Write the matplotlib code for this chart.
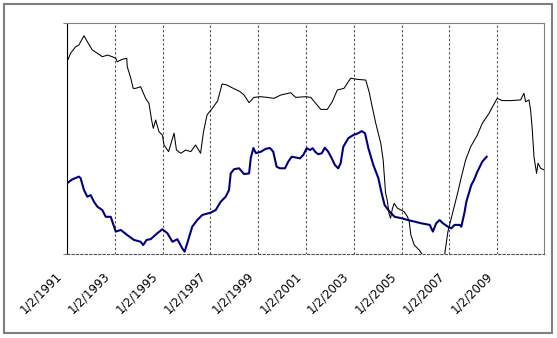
import matplotlib
matplotlib.use("Agg")
import matplotlib.pyplot as plt
from matplotlib.patches import Rectangle
from matplotlib.transforms import ScaledTranslation

# ---- data (decimal years, value index) ----
black_x = [1991.00, 1991.15, 1991.36, 1991.50, 1991.71, 1991.85, 1992.06, 1992.27, 1992.48, 1992.69,
           1992.90, 1993.04, 1993.10, 1993.31, 1993.50, 1993.52, 1993.67, 1993.77, 1993.87, 1994.08,
           1994.29, 1994.43, 1994.54, 1994.61, 1994.71, 1994.85, 1994.99, 1995.06, 1995.25, 1995.48,
           1995.58, 1995.76, 1995.97, 1996.18, 1996.38, 1996.59, 1996.71, 1996.86, 1997.09, 1997.30,
           1997.49, 1997.68, 1997.96, 1998.24, 1998.41, 1998.62, 1998.82, 1999.10, 1999.38, 1999.66,
           1999.94, 2000.36, 2000.57, 2000.99, 2001.20, 2001.41, 2001.62, 2001.89, 2002.10, 2002.31,
           2002.59, 2002.87, 2003.15, 2003.50, 2003.64, 2003.77, 2003.92, 2004.13, 2004.23, 2004.33,
           2004.40, 2004.48, 2004.54, 2004.62, 2004.69, 2004.83, 2005.11, 2005.25, 2005.32, 2005.39,
           2005.53, 2005.74, 2005.88, 2006.20, 2006.50, 2006.80, 2006.94, 2007.08, 2007.22, 2007.36,
           2007.47, 2007.68, 2007.89, 2008.17, 2008.38, 2008.66, 2009.00, 2009.21, 2009.56, 2009.98,
           2010.12, 2010.19, 2010.33, 2010.40, 2010.47, 2010.54, 2010.65, 2010.71, 2010.82, 2010.96]
black_y = [83.2, 86.9, 89.7, 90.5, 94.5, 91.9, 88.3, 86.9, 85.4, 86.1,
           85.4, 84.7, 83.2, 84.3, 84.7, 81.1, 76.1, 71.7, 71.7, 72.4,
           67.4, 65.2, 58.0, 54.4, 58.0, 52.9, 51.5, 47.2, 44.3, 52.3,
           45.0, 43.6, 45.0, 44.3, 47.2, 43.6, 52.8, 60.2, 63.2, 66.2,
           73.6, 73.2, 71.7, 70.3, 68.8, 65.5, 67.8, 68.1, 67.8, 67.4,
           68.8, 69.8, 67.8, 68.1, 67.8, 65.2, 62.6, 62.6, 65.9, 71.0,
           71.7, 76.1, 75.6, 75.3, 70.3, 63.8, 56.6, 47.9, 40.7, 26.4,
           23.4, 17.3, 15.5, 19.8, 21.9, 19.8, 18.3, 16.1, 14.0, 8.2,
           3.9, 1.7, -0.4, -6.0, -6.0, -0.4, 9.7, 15.5, 21.2, 27.0,
           32.0, 40.7, 46.4, 51.5, 56.6, 60.9, 67.4, 66.4, 66.4, 66.7,
           69.6, 65.9, 66.7, 62.3, 53.7, 42.1, 34.9, 39.3, 37.1, 36.4]

blue_x = [1991.00, 1991.22, 1991.50, 1991.57, 1991.71, 1991.85, 1991.99, 1992.13, 1992.27, 1992.48,
          1992.62, 1992.83, 1992.97, 1993.04, 1993.25, 1993.52, 1993.80, 1994.08, 1994.19, 1994.33,
          1994.50, 1994.78, 1994.99, 1995.20, 1995.41, 1995.62, 1995.82, 1995.92, 1996.03, 1996.24,
          1996.45, 1996.66, 1997.01, 1997.22, 1997.43, 1997.64, 1997.78, 1997.85, 1997.99, 1998.20,
          1998.41, 1998.62, 1998.69, 1998.80, 1998.90, 1999.10, 1999.31, 1999.49, 1999.63, 1999.77,
          1999.91, 2000.12, 2000.26, 2000.40, 2000.61, 2000.75, 2000.89, 2001.03, 2001.17, 2001.28,
          2001.38, 2001.51, 2001.66, 2001.79, 2001.93, 2002.08, 2002.21, 2002.35, 2002.45, 2002.56,
          2002.77, 2002.98, 2003.19, 2003.33, 2003.47, 2003.61, 2003.82, 2004.03, 2004.15, 2004.29,
          2004.50, 2004.71, 2004.99, 2005.27, 2005.55, 2005.82, 2006.18, 2006.31, 2006.45, 2006.59,
          2006.73, 2006.94, 2007.08, 2007.22, 2007.43, 2007.50, 2007.64, 2007.71, 2007.92, 2008.03,
          2008.17, 2008.38, 2008.56]
blue_y = [30.6, 32.3, 33.5, 32.8, 27.7, 24.8, 25.5, 22.6, 20.5, 19.0,
          16.1, 16.1, 11.8, 9.7, 10.4, 8.2, 6.1, 5.3, 3.9, 6.1,
          6.4, 9.0, 10.7, 9.0, 5.3, 6.4, 2.5, 1.0, 4.6, 11.8,
          14.7, 16.9, 17.9, 19.0, 22.6, 24.8, 27.7, 34.9, 36.7, 37.1,
          34.6, 34.9, 41.6, 45.9, 43.7, 44.2, 45.5, 45.9, 44.3, 37.8,
          37.1, 37.1, 40.0, 42.1, 41.7, 41.4, 42.9, 45.8, 45.0, 45.8,
          44.3, 43.2, 43.6, 46.0, 44.3, 41.4, 38.5, 37.1, 39.3, 46.4,
          50.1, 51.5, 52.3, 53.2, 52.3, 45.8, 38.5, 32.8, 27.0, 21.2,
          18.3, 16.1, 15.5, 14.7, 14.0, 13.3, 12.6, 9.7, 13.3, 14.7,
          13.3, 11.8, 11.1, 12.6, 12.6, 11.8, 18.3, 22.6, 29.9, 32.0,
          35.6, 40.0, 42.1]

tick_years = [1991, 1993, 1995, 1997, 1999, 2001, 2003, 2005, 2007, 2009]
tick_labels = ["1/2/%d" % y for y in tick_years]

# ---- figure ----
W, H = 557, 338
fig = plt.figure(figsize=(W / 100, H / 100), dpi=100)
fig.patch.set_facecolor("white")

fig.patches.append(Rectangle((4 / W, 5 / H), 548 / W, 329 / H, transform=fig.transFigure,
                             fill=False, edgecolor="#7f7f7f", linewidth=1.5))

ax = fig.add_axes([67 / W, (H - 254) / H, (544 - 67) / W, (254 - 23) / H])
ax.set_xlim(1991.0, 2010.96)
ax.set_ylim(0, 100)

ax.plot(blue_x, blue_y, color="#000080", linewidth=1.5, zorder=3)
ax.plot(black_x, black_y, color="black", linewidth=0.75, zorder=4)

ax.set_xticks(tick_years)
ax.set_xticklabels([])
ax.grid(axis="x", linestyle=(0, (2, 2)), color="#505050", linewidth=0.8)
ax.tick_params(axis="x", length=0)

lab_tr = ax.get_xaxis_transform() + ScaledTranslation(-7 / 100, -20 / 100, fig.dpi_scale_trans)
for yr, lab in zip(tick_years, tick_labels):
    ax.text(yr, 0, lab, transform=lab_tr, rotation=45, ha="right", va="center",
            rotation_mode="anchor", fontsize=8.5, color="black", clip_on=False)

ax.set_yticks([0, 100])
ax.set_yticklabels([])
ax.tick_params(axis="y", length=3, width=0.8, color="#7f7f7f", direction="out")

ax.spines["left"].set_color("black")
ax.spines["left"].set_linewidth(0.8)
ax.spines["top"].set_color("#7f7f7f")
ax.spines["top"].set_linewidth(0.8)
ax.spines["right"].set_color("#7f7f7f")
ax.spines["right"].set_linewidth(0.8)
ax.spines["bottom"].set_color("#505050")
ax.spines["bottom"].set_linestyle((0, (2, 2)))
ax.spines["bottom"].set_linewidth(0.8)

fig.savefig("out.png", dpi=100, facecolor="white")
